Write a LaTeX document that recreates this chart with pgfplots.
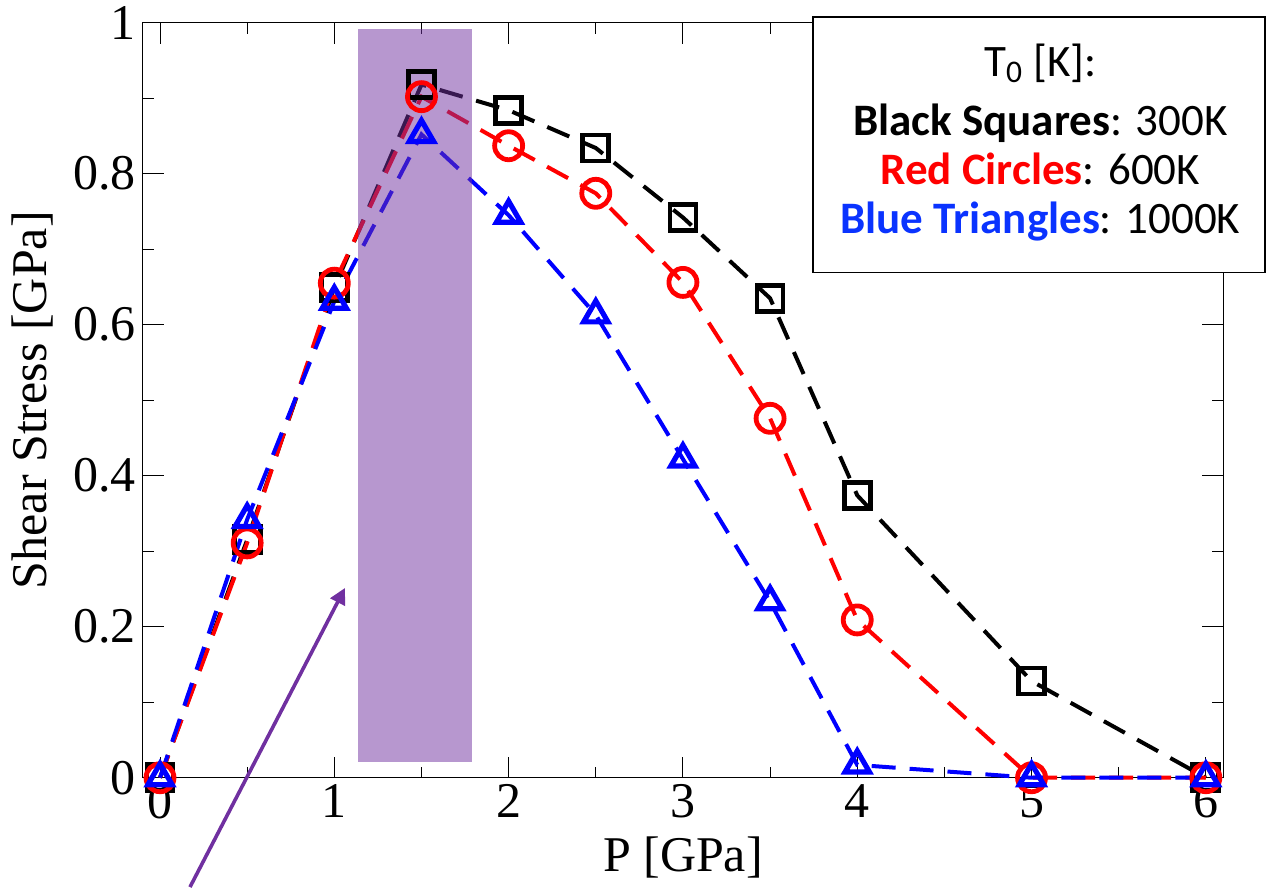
\documentclass[border=0pt]{standalone}
\usepackage{fontspec}
\setmainfont{Liberation Serif}
\newfontfamily\calibri{Carlito}
\usepackage{pgfplots}
\pgfplotsset{compat=1.18}
\usetikzlibrary{arrows.meta}
\definecolor{arrowpurple}{HTML}{7030A0}
\definecolor{legblue}{HTML}{0A33FF}

\begin{document}
\begin{tikzpicture}
\begin{axis}[
  scale only axis, width=540.3pt, height=377.5pt,
  xmin=-0.1, xmax=6.1, ymin=0, ymax=1,
  xtick={0,1,2,3,4,5,6}, ytick={0,0.2,0.4,0.6,0.8,1},
  minor x tick num=1, minor y tick num=1,
  tick align=inside, major tick length=10.5pt, minor tick length=5.5pt,
  tick style={line width=0.5pt, black},
  axis line style={line width=0.7pt},
  ticklabel style={font=\fontsize{25}{29}\selectfont},
  /pgf/number format/assume math mode=true,
  label style={font=\fontsize{25}{29}\selectfont},
  xlabel={P [GPa]}, ylabel={Shear Stress [GPa]},
  xlabel style={at={(axis description cs:0.5,-0.105)}, anchor=center},
  ylabel style={at={(axis description cs:-0.1016,0.5)}, anchor=center},
  clip=false,
]
\addplot[black, line width=2pt, dash pattern=on 12pt off 7pt,
  mark=square, mark size=6.5pt, mark options={solid, line width=2.4pt}] coordinates {
  (0,0) (0.5,0.315) (1,0.649) (1.5,0.918) (2,0.884) (2.5,0.834)
  (3,0.742) (3.5,0.635) (4,0.374) (5,0.128) (6,0)};
\addplot[red, line width=2pt, dash pattern=on 12pt off 7pt,
  mark=o, mark size=7pt, mark options={solid, line width=2.4pt}] coordinates {
  (0,0) (0.5,0.311) (1,0.655) (1.5,0.902) (2,0.837) (2.5,0.774)
  (3,0.656) (3.5,0.476) (4,0.209) (5,0) (6,0)};
\addplot[blue, line width=2pt, dash pattern=on 12pt off 7pt,
  mark=triangle, mark size=7pt, mark options={solid, line width=2.6pt}] coordinates {
  (0,0) (0.5,0.342) (1,0.631) (1.5,0.852) (2,0.745) (2.5,0.613)
  (3,0.422) (3.5,0.233) (4,0.017) (5,0) (6,0)};

\fill[arrowpurple, fill opacity=0.5] (axis cs:1.138,0.0204) rectangle (axis cs:1.792,0.991);
\draw[arrowpurple, line width=1.8pt, -{Triangle[length=8pt,width=8pt]}]
  (axis cs:0.172,-0.1448) -- (axis cs:1.061,0.2513);

\draw[black, line width=0.7pt, fill=white] (axis cs:3.745,0.669) rectangle (axis cs:6.339,1.0075);
\begin{scope}[every node/.style={font=\calibri\fontsize{22.5}{26}\selectfont, anchor=base, inner sep=0pt}]
\node at (axis cs:5.05,0.9285) {T\textsubscript{0} [K]:};
\node at (axis cs:5.05,0.850) {\textbf{Black Squares}: 300K};
\node at (axis cs:5.05,0.785) {\textcolor{red}{\textbf{Red Circles}}: 600K};
\node at (axis cs:5.05,0.7205) {\textcolor{legblue}{\textbf{Blue Triangles}}: 1000K};
\end{scope}

\coordinate (BL) at (axis cs:-0.918,-0.1487);
\coordinate (TR) at (axis cs:6.345,1.030);
\end{axis}
\pgfresetboundingbox
\useasboundingbox (BL) rectangle (TR);
\end{tikzpicture}
\end{document}
